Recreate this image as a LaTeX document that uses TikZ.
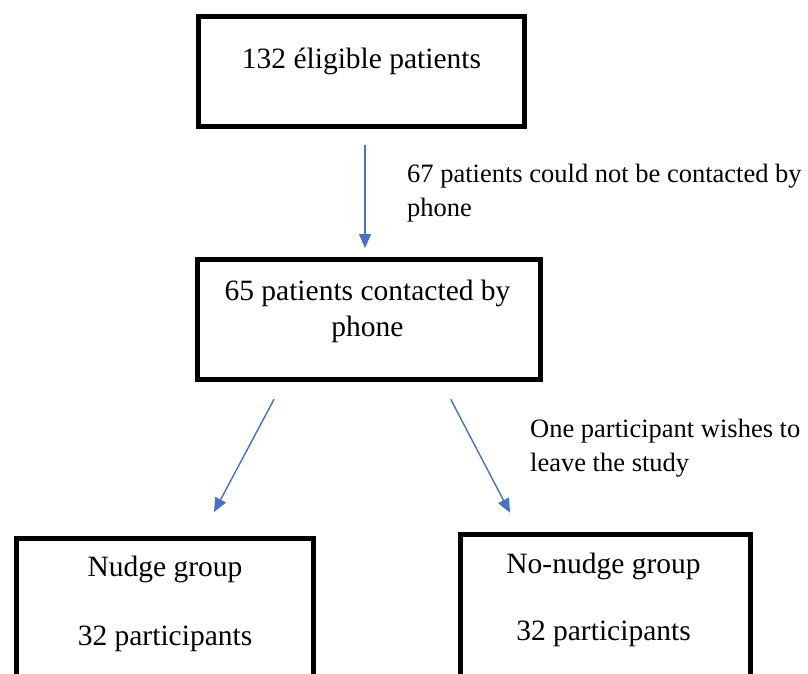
\documentclass[tikz,border=0pt]{standalone}
\usepackage{fontspec}
\setmainfont{Liberation Serif}
\usetikzlibrary{arrows.meta}
\definecolor{arrowblue}{RGB}{68,114,196}

\begin{document}
\begin{tikzpicture}[
    x=1pt, y=-1pt,
    box/.style={draw, line width=5pt, inner sep=0pt, outer sep=0pt},
    boxtext/.style={inner sep=0pt, align=center, font=\fontsize{29.5}{36.7}\selectfont},
    note/.style={inner sep=0pt, align=left, font=\fontsize{26.5}{33.5}\selectfont},
    arr/.style={-{Triangle[length=14pt,width=12pt]}, draw=arrowblue, fill=arrowblue, line width=1.4pt}
]

    \clip (0,0) rectangle (808,673);

    \node[box, minimum width=326pt, minimum height=110pt] (elig) at (361,71.5) {};
    \node[box, minimum width=343pt, minimum height=120pt] (contact) at (369,319) {};
    \node[box, minimum width=296.6pt, minimum height=182pt] (nudge) at (165,629) {};
    \node[box, minimum width=290pt, minimum height=185.5pt] (nonudge) at (605,627.25) {};

    \node[boxtext, anchor=base] (elig-txt) at ([xshift=0.5pt, yshift=-51.5pt]elig.north) {132 éligible patients};
    \node[boxtext, anchor=base] (contact-txt) at ([xshift=-1.5pt, yshift=-77.7pt]contact.north) {65 patients contacted by\\ phone};
    \node[boxtext, anchor=base] (nudge-txt) at ([yshift=-107pt]nudge.north) {Nudge group\\[31.6pt] 32 participants};
    \node[boxtext, anchor=base] (nonudge-txt) at ([xshift=-1.5pt, yshift=-105.5pt]nonudge.north) {No-nudge group\\[30pt] 32 participants};

    \node[note, anchor=base west] (unreached) at (407,216) {67 patients could not be contacted by\\ phone};
    \node[note, anchor=base west] (withdrawn) at (530,471) {One participant wishes to\\ leave the study};

    \draw[arr] ([xshift=4pt, yshift=-18.5pt]elig.south) -- ([xshift=-4pt, yshift=11pt]contact.north);
    \draw[arr] ([xshift=-95pt, yshift=-20.3pt]contact.south) -- ([xshift=49pt, yshift=26pt]nudge.north);
    \draw[arr] ([xshift=81.7pt, yshift=-20.3pt]contact.south) -- ([xshift=-95pt, yshift=21.8pt]nonudge.north);

\end{tikzpicture}
\end{document}
